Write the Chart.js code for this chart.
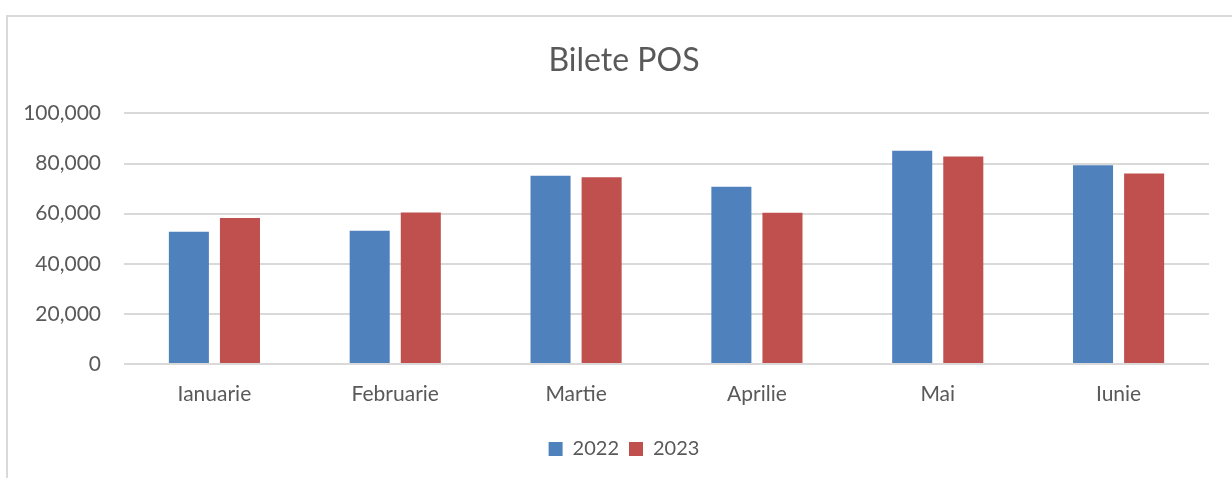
<!DOCTYPE html>
<html>
<head>
<meta charset="utf-8">
<script src="https://cdn.jsdelivr.net/npm/chart.js@4.4.1/dist/chart.umd.min.js"></script>
<style>
  html, body { margin: 0; padding: 0; background: #ffffff; overflow: hidden; }
  #frame { position: absolute; left: 6px; top: 15px; width: 1400px; height: 600px;
           border-top: 2px solid #d9d9d9; border-left: 2px solid #d9d9d9; box-sizing: border-box; }
  #wrap { position: absolute; left: 0; top: 0; width: 1232px; height: 478px; }
</style>
</head>
<body>
<div id="frame"></div>
<div id="wrap"><canvas id="c" width="1232" height="478"></canvas></div>
<script>
const categories = ["Ianuarie", "Februarie", "Martie", "Aprilie", "Mai", "Iunie"];
const values2022 = [52800, 53200, 75100, 70700, 85100, 79300];
const values2023 = [58300, 60500, 74500, 60400, 82800, 76000];
const seriesLabels = ["2022", "2023"];
const yTicks = { min: 0, max: 100000, step: 20000 };
const chartTitle = "Bilete POS";

const textColor = "#595959";
const fontFamily = "Lato, 'Open Sans', sans-serif";

new Chart(document.getElementById("c"), {
  type: "bar",
  data: {
    labels: categories,
    datasets: [
      { label: seriesLabels[0], data: values2022, backgroundColor: "#4F81BD", borderWidth: 0,
        categoryPercentage: 0.565, barPercentage: 0.784 },
      { label: seriesLabels[1], data: values2023, backgroundColor: "#C0504D", borderWidth: 0,
        categoryPercentage: 0.565, barPercentage: 0.784 }
    ]
  },
  options: {
    responsive: false,
    animation: false,
    devicePixelRatio: 1,
    layout: { padding: { top: 0, left: 16, right: 0, bottom: 9 } },
    plugins: {
      title: {
        display: true, text: chartTitle, color: textColor,
        font: { family: fontFamily, size: 32, weight: "normal", lineHeight: 1.2 },
        padding: { top: 41, bottom: 34 }
      },
      legend: {
        position: "bottom",
        labels: {
          color: textColor, boxWidth: 14, boxHeight: 14, padding: 10,
          font: { family: fontFamily, size: 20 }
        }
      },
      tooltip: { enabled: false }
    },
    scales: {
      x: {
        grid: { display: false, drawTicks: false },
        border: { display: false },
        ticks: { color: textColor, padding: 18, font: { family: fontFamily, size: 21 } },
        afterFit: (s) => { s.height = 65; s.paddingRight = 23; s.paddingLeft = 0; }
      },
      y: {
        min: yTicks.min, max: yTicks.max,
        grid: { color: "#d9d9d9", lineWidth: 2, drawTicks: false },
        border: { display: false },
        ticks: {
          stepSize: yTicks.step, color: textColor, padding: 23,
          font: { family: fontFamily, size: 21 },
          callback: (v) => v.toLocaleString("en-US")
        },
        afterFit: (s) => { s.width = 108; }
      }
    }
  }
});
</script>
</body>
</html>
